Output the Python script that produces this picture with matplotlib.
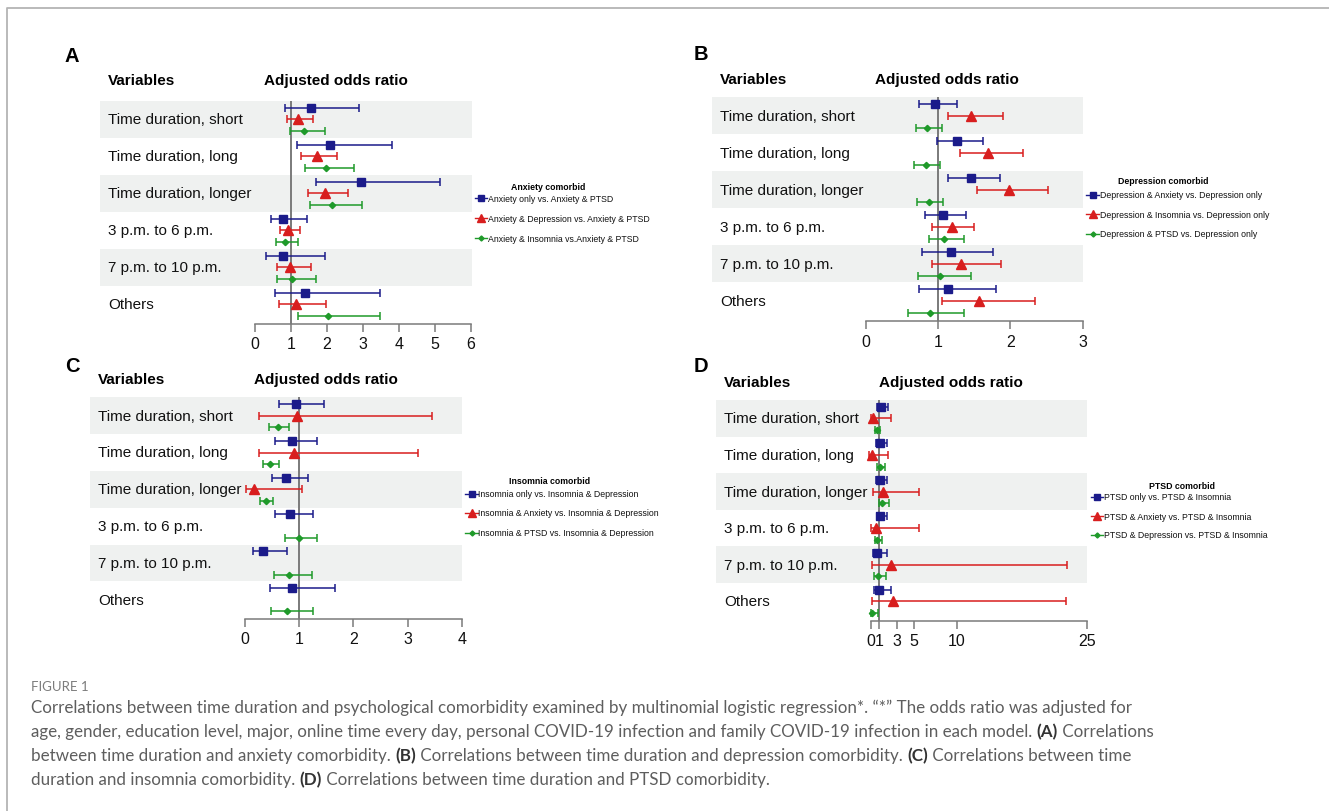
import numpy as np
import matplotlib
matplotlib.use("Agg")
import matplotlib.pyplot as plt
import matplotlib.transforms as mtransforms
from matplotlib.lines import Line2D

W, H = 1329, 812

rows = ["Time duration, short", "Time duration, long", "Time duration, longer",
        "3 p.m. to 6 p.m.", "7 p.m. to 10 p.m.", "Others"]

# ---------------- Panel A : Anxiety comorbid ----------------
A_title = "Anxiety comorbid"
A_labels = ["Anxiety only vs. Anxiety & PTSD",
            "Anxiety & Depression vs. Anxiety & PTSD",
            "Anxiety & Insomnia vs.Anxiety & PTSD"]
A1_or = [1.56, 2.08, 2.94, 0.78, 0.78, 1.39]
A1_lo = [0.83, 1.18, 1.69, 0.44, 0.31, 0.55]
A1_hi = [2.90, 3.80, 5.15, 1.44, 1.94, 3.48]
A2_or = [1.20, 1.71, 1.95, 0.93, 0.98, 1.14]
A2_lo = [0.88, 1.29, 1.48, 0.69, 0.61, 0.68]
A2_hi = [1.62, 2.29, 2.59, 1.25, 1.55, 1.97]
A3_or = [1.37, 1.97, 2.14, 0.84, 1.02, 2.02]
A3_lo = [0.97, 1.40, 1.53, 0.59, 0.62, 1.19]
A3_hi = [1.94, 2.76, 2.97, 1.20, 1.69, 3.48]
A_ticks = [0, 1, 2, 3, 4, 5, 6]

# ---------------- Panel B : Depression comorbid ----------------
B_title = "Depression comorbid"
B_labels = ["Depression & Anxiety vs. Depression only",
            "Depression & Insomnia vs. Depression only",
            "Depression & PTSD vs. Depression only"]
B1_or = [0.96, 1.26, 1.45, 1.06, 1.18, 1.14]
B1_lo = [0.73, 0.98, 1.13, 0.82, 0.78, 0.73]
B1_hi = [1.26, 1.62, 1.86, 1.38, 1.76, 1.80]
B2_or = [1.46, 1.69, 1.98, 1.19, 1.31, 1.56]
B2_lo = [1.13, 1.30, 1.54, 0.92, 0.91, 1.05]
B2_hi = [1.89, 2.17, 2.52, 1.50, 1.87, 2.34]
B3_or = [0.85, 0.83, 0.87, 1.08, 1.02, 0.88]
B3_lo = [0.69, 0.66, 0.71, 0.87, 0.72, 0.58]
B3_hi = [1.05, 1.02, 1.07, 1.36, 1.46, 1.36]
B_ticks = [0, 1, 2, 3]

# ---------------- Panel C : Insomnia comorbid ----------------
C_title = "Insomnia comorbid"
C_labels = ["Insomnia only vs. Insomnia & Depression",
            "Insomnia & Anxiety vs. Insomnia & Depression",
            "Insomnia & PTSD vs. Insomnia & Depression"]
C1_or = [0.94, 0.86, 0.76, 0.83, 0.34, 0.87]
C1_lo = [0.62, 0.56, 0.49, 0.55, 0.15, 0.47]
C1_hi = [1.46, 1.32, 1.16, 1.26, 0.77, 1.67]
C2_or = [0.96, 0.91, 0.17, np.nan, np.nan, np.nan]
C2_lo = [0.26, 0.26, 0.02, np.nan, np.nan, np.nan]
C2_hi = [3.45, 3.20, 1.05, np.nan, np.nan, np.nan]
C3_or = [0.60, 0.46, 0.38, 1.00, 0.82, 0.78]
C3_lo = [0.44, 0.33, 0.28, 0.74, 0.53, 0.48]
C3_hi = [0.81, 0.62, 0.51, 1.32, 1.24, 1.26]
C_ticks = [0, 1, 2, 3, 4]

# ---------------- Panel D : PTSD comorbid ----------------
D_title = "PTSD comorbid"
D_labels = ["PTSD only vs. PTSD & Insomnia",
            "PTSD & Anxiety vs. PTSD & Insomnia",
            "PTSD & Depression vs. PTSD & Insomnia"]
D1_or = [1.20, 1.04, 1.04, 1.12, 0.69, 0.96]
D1_lo = [0.69, 0.62, 0.62, 0.69, 0.27, 0.35]
D1_hi = [2.04, 1.85, 1.89, 1.93, 1.93, 2.31]
D2_or = [0.31, 0.12, 1.47, 0.58, 2.39, 2.58]
D2_lo = [0.00, -0.15, 0.27, 0.00, 0.15, 0.19]
D2_hi = [2.31, 2.04, 5.59, 5.63, 22.7, 22.6]
D3_or = [0.77, 1.08, 1.35, 0.77, 0.89, 0.19]
D3_lo = [0.46, 0.77, 1.00, 0.50, 0.39, 0.00]
D3_hi = [1.08, 1.66, 2.08, 1.27, 1.77, 0.89]
D_ticks = [0, 1, 3, 5, 10, 25]

caption_head = "FIGURE 1"
caption_lines = [
    [("Correlations between time duration and psychological comorbidity examined by multinomial logistic regression*. \u201c*\u201d The odds ratio was adjusted for", False)],
    [("age, gender, education level, major, online time every day, personal COVID-19 infection and family COVID-19 infection in each model. ", False),
     ("(A)", True), (" Correlations", False)],
    [("between time duration and anxiety comorbidity. ", False), ("(B)", True),
     (" Correlations between time duration and depression comorbidity. ", False), ("(C)", True),
     (" Correlations between time", False)],
    [("duration and insomnia comorbidity. ", False), ("(D)", True),
     (" Correlations between time duration and PTSD comorbidity.", False)],
]

# ---------------- styling ----------------
FONT = "Liberation Sans"
CAPFONT = "Lato"
BLUE = "#1b1b8a"
RED = "#d81e1e"
GREEN = "#1f9a2a"
BAND = "#eff1f0"
GREY = "#7a7a7a"
COLORS = [BLUE, RED, GREEN]
MARKERS = ["s", "^", "D"]
MSIZES = [6.0, 6.6, 3.2]

plt.rcParams["font.family"] = [FONT, "DejaVu Sans"]

fig = plt.figure(figsize=(W / 100, H / 100), dpi=100)
fig.patch.set_facecolor("white")


def fx(x):
    return x / W


def fy(y):
    return 1 - y / H


# border
fig.add_artist(Line2D([fx(7), fx(7), fx(W + 5)], [fy(H + 5), fy(9), fy(9)],
                      color="#b4b4b4", lw=1.3, transform=fig.transFigure))


def panel(letter, letter_xy, left, top, right, row_h, axis_y, x0px, x1px, ticks,
          header_y, adj_x, series, title, labels, leg):
    ax = fig.add_axes([fx(left), fy(axis_y), (right - left) / W, (axis_y - top) / H])
    tmax = ticks[-1]
    upp = tmax / (x1px - x0px)
    ax.set_xlim(-(x0px - left) * upp, tmax + (right - x1px) * upp)
    yb = (axis_y - top) / row_h
    ax.set_ylim(yb, 0)
    ax.patch.set_alpha(0)
    for i in (0, 2, 4):
        ax.axhspan(i, i + 1, color=BAND, lw=0, zorder=0)
    trans = mtransforms.blended_transform_factory(ax.transAxes, ax.transData)
    for i, r in enumerate(rows):
        ax.text(8 / (right - left), i + 0.5, r, transform=trans, ha="left", va="center",
                fontsize=11, color="#111111")
    ax.plot([1, 1], [0, yb], color=GREY, lw=1.4, zorder=1)
    offs = [-11.7 / row_h, 0, 11.7 / row_h]
    for k, (o, lo, hi) in enumerate(series):
        o = np.asarray(o, float)
        lo = np.asarray(lo, float)
        hi = np.asarray(hi, float)
        y = np.arange(len(rows)) + 0.5 + offs[k]
        ax.errorbar(o, y, xerr=[o - lo, hi - o], fmt=MARKERS[k], color=COLORS[k],
                    ms=MSIZES[k], capsize=3.0, elinewidth=1.1, capthick=1.1, zorder=3)
    for s in ("top", "right", "left"):
        ax.spines[s].set_visible(False)
    ax.spines["bottom"].set_color(GREY)
    ax.spines["bottom"].set_linewidth(1.1)
    ax.spines["bottom"].set_bounds(0, tmax)
    ax.set_xticks(ticks)
    ax.set_xticklabels([str(t) for t in ticks])
    ax.tick_params(axis="x", direction="out", length=6, width=1.1, color=GREY,
                   labelsize=11.5, pad=3, labelcolor="#111111")
    ax.tick_params(axis="y", left=False, labelleft=False)
    # headers
    fig.text(fx(letter_xy[0]), fy(letter_xy[1]), letter, fontsize=14.5, fontweight="bold",
             ha="center", va="center")
    fig.text(fx(left + 8), fy(header_y), "Variables", fontsize=11, fontweight="bold",
             ha="left", va="center")
    fig.text(fx(adj_x), fy(header_y), "Adjusted odds ratio", fontsize=11, fontweight="bold",
             ha="center", va="center")
    # legend
    lx0, lx1, ty, ys, tcx = leg
    fig.text(fx(tcx), fy(ty), title, fontsize=6.3, fontweight="bold", ha="center", va="center")
    for k in range(3):
        fig.add_artist(Line2D([fx(lx0), fx(lx1)], [fy(ys[k])] * 2, color=COLORS[k], lw=1.0,
                              transform=fig.transFigure))
        fig.add_artist(Line2D([fx((lx0 + lx1) / 2)], [fy(ys[k])], color=COLORS[k],
                              marker=MARKERS[k], ms=MSIZES[k] * 0.8, lw=0,
                              transform=fig.transFigure))
        fig.text(fx(lx1 + 0.5), fy(ys[k]), labels[k], fontsize=6.3, ha="left", va="center",
                 color="#111111")
    return ax


panel("A", (72, 56), 100, 101.7, 472, 37.0, 325, 255, 471, A_ticks, 81, 336,
      [(A1_or, A1_lo, A1_hi), (A2_or, A2_lo, A2_hi), (A3_or, A3_lo, A3_hi)],
      A_title, A_labels, (475, 487, 187, [199, 219, 239], 548))
panel("B", (701, 55), 712, 98.3, 1082.7, 37.0, 322.3, 866, 1082.7, B_ticks, 80, 947,
      [(B1_or, B1_lo, B1_hi), (B2_or, B2_lo, B2_hi), (B3_or, B3_lo, B3_hi)],
      B_title, B_labels, (1086, 1099, 181, [196, 215, 235], 1163))
panel("C", (72, 366), 90, 398.3, 461.7, 36.8, 620, 245, 461.7, C_ticks, 380, 326,
      [(C1_or, C1_lo, C1_hi), (C2_or, C2_lo, C2_hi), (C3_or, C3_lo, C3_hi)],
      C_title, C_labels, (465, 478, 482, [495, 514, 534], 550))
panel("D", (701, 366), 716, 401, 1087, 36.6, 621.7, 870.7, 1086.7, D_ticks, 383, 951,
      [(D1_or, D1_lo, D1_hi), (D2_or, D2_lo, D2_hi), (D3_or, D3_lo, D3_hi)],
      D_title, D_labels, (1091, 1103, 487, [498, 517, 536], 1182))

# ---------------- caption ----------------
renderer = fig.canvas.get_renderer()
fig.text(fx(31), fy(687), caption_head, fontsize=9.5, color="#7c7c7c", ha="left",
         va="center", family=[CAPFONT, "DejaVu Sans"])

# fit caption size so first line is ~1100 px wide
probe = fig.text(0, 0, caption_lines[0][0][0], fontsize=12, family=[CAPFONT, "DejaVu Sans"])
wprobe = probe.get_window_extent(renderer).width
probe.remove()
cap_fs = 12 * 1100 / wprobe

line_y = [708, 732, 756, 780]
for ly, pieces in zip(line_y, caption_lines):
    x = 31
    for txt, bold in pieces:
        t = fig.text(fx(x), fy(ly), txt, fontsize=cap_fs, ha="left", va="center",
                     color="#333333" if bold else "#5e5e5e",
                     fontweight="bold" if bold else "normal",
                     family=[CAPFONT, "DejaVu Sans"])
        x += t.get_window_extent(renderer).width

fig.savefig("out.png", dpi=100, facecolor="white")
